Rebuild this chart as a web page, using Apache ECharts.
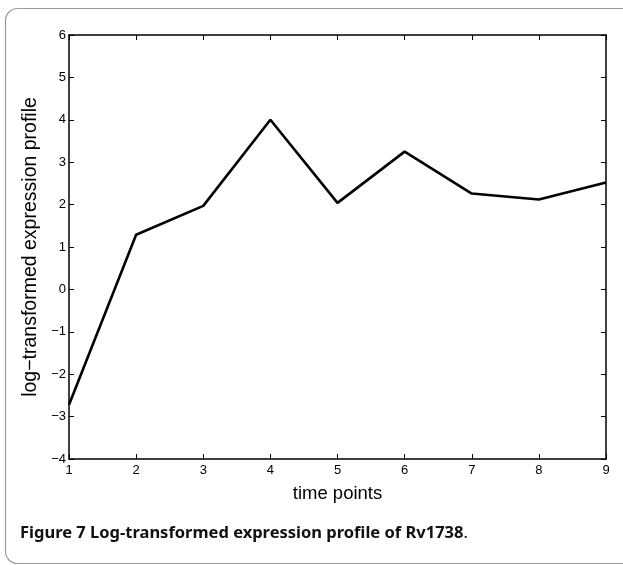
<!DOCTYPE html>
<html>
<head>
<meta charset="utf-8">
<script src="https://cdn.jsdelivr.net/npm/echarts@6/dist/echarts.min.js"></script>
<style>
  html, body { margin: 0; padding: 0; background: #fff; }
  #chart { width: 623px; height: 565px; }
</style>
</head>
<body>
<div id="chart"></div>
<script>
// time points and log-transformed expression of Rv1738
const timePoints = [1, 2, 3, 4, 5, 6, 7, 8, 9];
const expression = [-2.72, 1.29, 1.97, 4.0, 2.04, 3.25, 2.26, 2.12, 2.52];
const yTicks = [-4, -3, -2, -1, 0, 1, 2, 3, 4, 5, 6];

const chart = echarts.init(document.getElementById('chart'));

const fmtMinus = v => String(v).replace('-', '\u2212');
const tickStyle = {lineStyle: {color: '#000', width: 1}};
const boxLine = {onZero: false, lineStyle: {color: '#000', width: 1.5}};

const option = {
  animation: false,
  textStyle: {fontFamily: 'Liberation Sans, Arial, sans-serif'},
  grid: {left: 69, top: 35, width: 537, height: 424},
  graphic: [
    {
      type: 'rect',
      shape: {x: 5.5, y: 8.5, width: 660, height: 555, r: 12},
      style: {fill: 'none', stroke: '#9a9a9a', lineWidth: 1.2},
      silent: true
    },
    {
      type: 'text',
      left: 20, top: 525,
      style: {
        rich: {
          b: {fontFamily: 'Noto Sans', fontWeight: 'bold', fontSize: 16.5, fill: '#111'},
          n: {fontFamily: 'Noto Sans', fontSize: 16.5, fill: '#111'}
        },
        text: '{b|Figure 7 Log-transformed expression profile of Rv1738}{n|.}'
      }
    }
  ],
  xAxis: [
    {
      type: 'value', min: 1, max: 9, interval: 1,
      name: 'time points', nameLocation: 'middle', nameGap: 25,
      nameTextStyle: {fontSize: 18.5, color: '#000'},
      axisLine: boxLine,
      axisTick: Object.assign({inside: true, length: 5}, tickStyle),
      axisLabel: {color: '#000', fontSize: 13, margin: 5},
      splitLine: {show: false}
    },
    {
      type: 'value', min: 1, max: 9, interval: 1, position: 'top',
      axisLine: boxLine,
      axisTick: Object.assign({inside: true, length: 5}, tickStyle),
      axisLabel: {show: false},
      splitLine: {show: false}
    }
  ],
  yAxis: [
    {
      type: 'value', min: -4, max: 6, interval: 1,
      name: 'log\u2212transformed expression profile', nameLocation: 'middle', nameGap: 20,
      nameTextStyle: {fontSize: 19.5, color: '#000'},
      axisLine: boxLine,
      axisTick: Object.assign({inside: true, length: 5}, tickStyle),
      axisLabel: {color: '#000', fontSize: 13, margin: 3, formatter: v => yTicks.includes(v) ? fmtMinus(v) : ''},
      splitLine: {show: false}
    },
    {
      type: 'value', min: -4, max: 6, interval: 1, position: 'right',
      axisLine: boxLine,
      axisTick: Object.assign({inside: true, length: 5}, tickStyle),
      axisLabel: {show: false},
      splitLine: {show: false}
    }
  ],
  series: [
    {
      type: 'line',
      data: timePoints.map((t, i) => [t, expression[i]]),
      showSymbol: false,
      lineStyle: {color: '#000', width: 2.6},
      clip: false
    }
  ]
};

chart.setOption(option);
</script>
</body>
</html>
